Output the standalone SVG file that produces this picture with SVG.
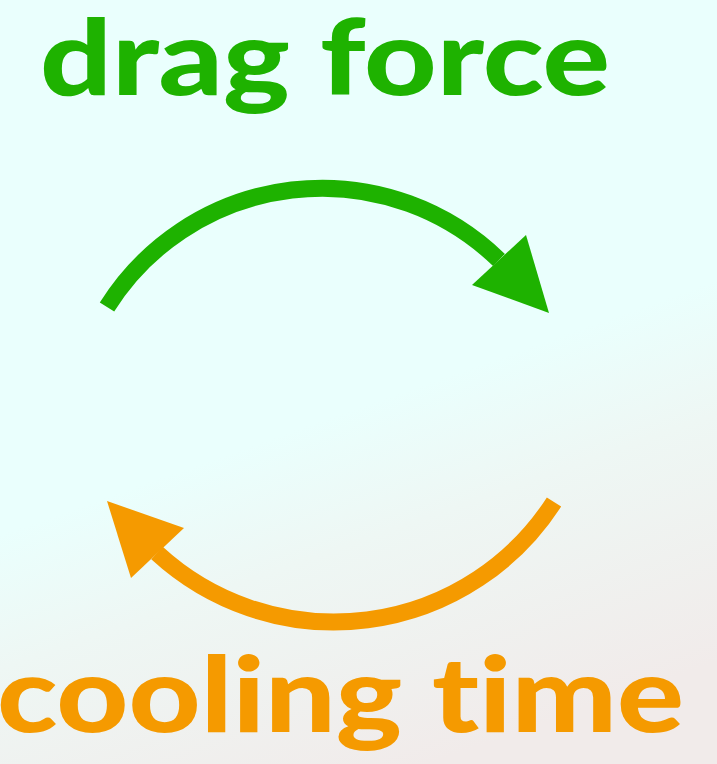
<svg xmlns="http://www.w3.org/2000/svg" width="717" height="764" viewBox="0 0 717 764">
<defs>
<linearGradient id="bg" x1="0.45" y1="0.55" x2="0.6" y2="1">
<stop offset="0" stop-color="#EAFFFD"/>
<stop offset="0.35" stop-color="#EEF7F4"/>
<stop offset="1" stop-color="#F1EBEA"/>
</linearGradient>
<style>
.lbl{font-family:Lato,"Open Sans","Liberation Sans",sans-serif;font-weight:900;font-size:105px;font-variant-ligatures:none;font-feature-settings:"liga" 0,"clig" 0}
.arc{fill:none;stroke-width:17}
</style>
</defs>
<rect width="717" height="764" fill="url(#bg)"/>
<g id="connectors">
<g id="drag-arrow">
<path class="arc" stroke="#1EB200" d="M107,307 A254,254 0 0 1 499,260"/>
<polygon fill="#1EB200" points="549,313 526,235 472,285"/>
</g>
<g id="cooling-arrow">
<path class="arc" stroke="#F59A00" d="M554,502 A261.5,261.5 0 0 1 157,553"/>
<polygon fill="#F59A00" points="107,501 184,528 131,578"/>
</g>
</g>
<g id="drag-force">
<text class="lbl" x="40" y="95" fill="#1EB200" textLength="570" lengthAdjust="spacingAndGlyphs">drag force</text>
</g>
<g id="cooling-time">
<text class="lbl" x="-3" y="732" fill="#F59A00" textLength="687" lengthAdjust="spacingAndGlyphs">cooling time</text>
</g>
</svg>
